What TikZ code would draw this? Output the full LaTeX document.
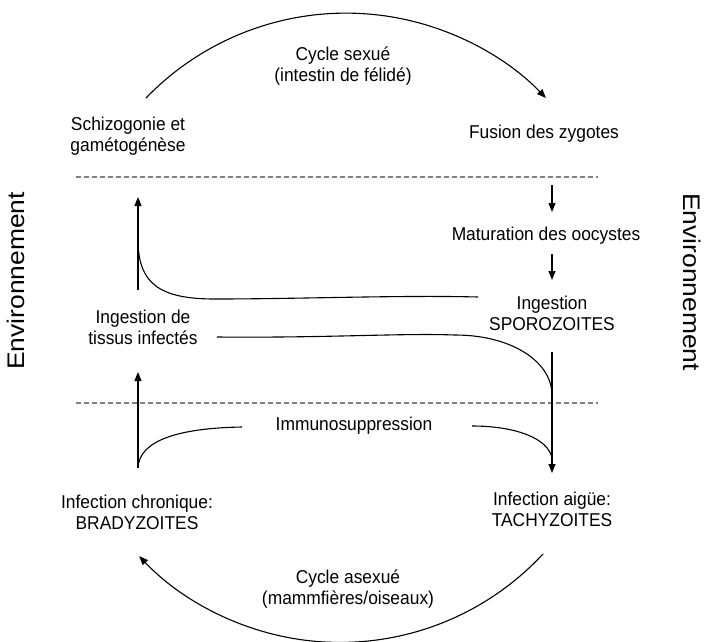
\documentclass[tikz,border=0pt]{standalone}
\usepackage{fontspec}
\setmainfont[FakeStretch=0.935]{Liberation Sans}
\newfontfamily\envfont[FakeStretch=1.1]{Liberation Sans}
\usepackage{tikz}
\usetikzlibrary{arrows.meta}

\tikzset{
  lbl/.style={inner sep=0.75pt, align=center, font=\fontsize{18.6}{21}\selectfont},
  envlbl/.style={inner sep=0.75pt, font=\envfont\fontsize{24}{28}\selectfont},
  ln/.style={line width=1.1pt},
  arr/.style={ln, -{Triangle[length=9pt,width=7pt]}},
  sep/.style={line width=1.4pt, black!50, dash pattern=on 5pt off 3pt},
}

\begin{document}
\begin{tikzpicture}[x=1pt,y=1pt,yscale=-1]
\clip (0,0) rectangle (705,641);
\fill[white] (0,0) rectangle (705,641);

% Text Node
\node[envlbl, rotate=90] (envL) at (16,281) {Environnement};
% Text Node
\node[envlbl, rotate=-90] (envR) at (692,282) {Environnement};
% Text Node
\node[lbl] (sexe) at (343,66) {Cycle sexué\\(intestin de félidé)};
% Text Node
\node[lbl] (schizo) at (128,136) {Schizogonie et\\gamétogénèse};
% Text Node
\node[lbl] (fusion) at (544,134) {Fusion des zygotes};
% Text Node
\node[lbl] (oocyst) at (546,236) {Maturation des oocystes};
% Text Node
\node[lbl] (sporo) at (552,313) {Ingestion\\SPOROZOITES};
% Text Node
\node[lbl] (tissus) at (143,327) {Ingestion de\\tissus infectés};
% Text Node
\node[lbl] (immuno) at (354,426) {Immunosuppression};
% Text Node
\node[lbl] (chron) at (137,512) {Infection chronique:\\BRADYZOITES};
% Text Node
\node[lbl] (aigue) at (552,509) {Infection aigüe:\\TACHYZOITES};
% Text Node
\node[lbl] (asexe) at (348,589) {Cycle asexué\\(mammfières/oiseaux)};

% line ends
\coordinate (sexeA) at (146,98);
\coordinate (asexeA) at (543,554);
\coordinate (fusionB) at (552,185);
\coordinate (oocystA) at (552,212);
\coordinate (oocystB) at (552,254);
\coordinate (sporoA) at (552,280);
\coordinate (sporoB) at (552,352);
\coordinate (aigueA) at (552,473);
\coordinate (sporoL) at (478,297);
\coordinate (tissusT) at (138,290);
\coordinate (schizoB) at (138,197);
\coordinate (joinL) at (138,242);
\coordinate (tissusR) at (217,337);
\coordinate (joinR) at (552,395);
\coordinate (immunoL) at (242,427);
\coordinate (immunoR) at (472,426);
\coordinate (chronT) at (138,468);
\coordinate (tissusB) at (138,372);
\coordinate (aigueT) at (552,458);

%Dashed Lines
\draw[sep] (76,177) -- (598,177);
\draw[sep] (76,403) -- (598,403);

%Arcs
\draw[arr] (sexeA) arc[start angle=224, end angle=316, radius=278];
\draw[arr] (asexeA) arc[start angle=42.9, end angle=136.5, radius=277];

%Straight Lines
\draw[arr] (fusionB) -- (oocystA);
\draw[arr] (oocystB) -- (sporoA);
\draw[arr] (sporoB) -- (aigueA);
\draw[arr] (tissusT) -- (schizoB);
\draw[arr] (chronT) -- (tissusB);

%Curve Lines
\draw[ln] (sporoL) .. controls (400,295) and (300,299) .. (215,299) .. controls (160,299) and (139,284) .. (joinL);
\draw[ln] (tissusR) .. controls (330,338) and (400,333) .. (455,335) .. controls (512,335) and (552,362) .. (joinR);
\draw[ln] (immunoR) .. controls (515,426) and (548,438) .. (aigueT);
\draw[ln] (immunoL) .. controls (180,428) and (139,440) .. (chronT);

\end{tikzpicture}
\end{document}
